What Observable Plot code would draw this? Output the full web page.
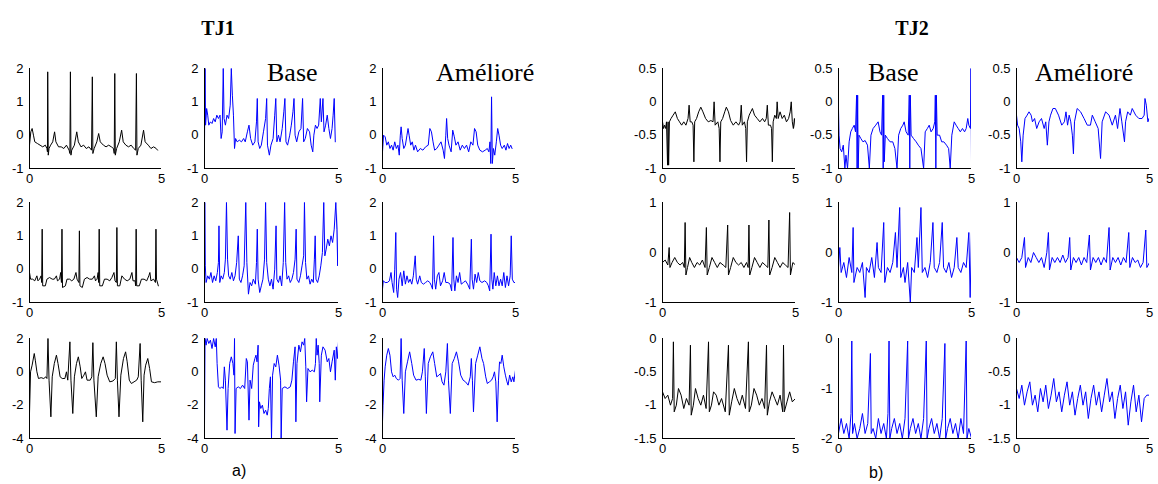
<!DOCTYPE html>
<html><head><meta charset="utf-8">
<script src="https://cdn.jsdelivr.net/npm/d3@7"></script>
<script src="https://cdn.jsdelivr.net/npm/@observablehq/plot@0.6"></script>
<style>
body{margin:0;background:#fff;}
#root{position:relative;width:1158px;height:484px;overflow:hidden;background:#fff;}
#root svg.panel{position:absolute;}
#labels{position:absolute;left:0;top:0;pointer-events:none;}
</style></head><body><div id="root"></div>
<script>
// ---- TJ1 signals (time s, amplitude) ----
const tj1_r1_ref = [[0,-0.3],[0.05,0.1],[0.1,0.2],[0.15,0.0],[0.2,-0.2],[0.3,-0.25],[0.4,-0.3],[0.5,-0.35],[0.6,-0.3],[0.66,-0.4],[0.68,-0.5],[0.69,1.9],[0.71,-0.6],[0.74,-0.4],[0.8,-0.3],[0.88,-0.2],[0.95,0.1],[1.0,-0.2],[1.1,-0.35],[1.2,-0.35],[1.3,-0.4],[1.4,-0.3],[1.5,-0.45],[1.53,-0.55],[1.55,1.9],[1.57,-0.6],[1.6,-0.45],[1.7,-0.3],[1.79,0.1],[1.85,-0.2],[1.95,-0.35],[2.05,-0.3],[2.15,-0.4],[2.25,-0.35],[2.35,-0.45],[2.38,1.75],[2.4,-0.55],[2.45,-0.4],[2.55,-0.2],[2.62,0.05],[2.68,-0.2],[2.8,-0.3],[2.9,-0.35],[3.0,-0.3],[3.1,-0.35],[3.18,-0.4],[3.21,-0.55],[3.23,1.85],[3.25,-0.6],[3.3,-0.4],[3.4,-0.2],[3.49,0.15],[3.55,-0.2],[3.65,-0.3],[3.75,-0.35],[3.85,-0.3],[3.95,-0.4],[4.02,-0.45],[4.05,1.85],[4.07,-0.6],[4.12,-0.4],[4.22,-0.3],[4.32,0.15],[4.38,-0.2],[4.5,-0.3],[4.6,-0.4],[4.7,-0.35],[4.8,-0.4],[4.85,-0.45]];
const tj1_r1_base = [[0,-0.3],[0.02,2],[0.04,0.3],[0.08,0.8],[0.12,0.6],[0.16,0.3],[0.22,0.4],[0.28,0.35],[0.34,0.5],[0.4,0.4],[0.46,0.6],[0.52,0.5],[0.58,0.6],[0.62,-0.1],[0.66,0.1],[0.7,2],[0.73,0.5],[0.78,0.3],[0.84,0.6],[0.9,0.5],[0.96,0.9],[1.0,2],[1.04,1.2],[1.08,0.6],[1.12,-0.4],[1.16,-0.1],[1.22,-0.2],[1.3,-0.15],[1.38,-0.2],[1.46,-0.1],[1.52,-0.2],[1.6,0.1],[1.66,0.3],[1.72,-0.1],[1.8,-0.3],[1.88,-0.2],[1.94,0.4],[1.97,1.1],[2.0,-0.2],[2.06,-0.4],[2.12,-0.3],[2.2,0.1],[2.28,0.5],[2.32,1.1],[2.35,-0.3],[2.42,-0.6],[2.48,-0.3],[2.56,-0.1],[2.62,0.6],[2.66,1.1],[2.7,-0.2],[2.76,0.0],[2.82,-0.2],[2.9,0.2],[2.96,0.7],[3.0,1.1],[3.04,-0.2],[3.1,-0.3],[3.18,0.0],[3.24,0.3],[3.3,0.7],[3.34,1.1],[3.38,0.0],[3.44,-0.2],[3.52,0.1],[3.6,0.2],[3.66,1.1],[3.7,-0.2],[3.76,-0.1],[3.84,0.2],[3.92,0.1],[3.98,-0.3],[4.04,-0.5],[4.08,0.0],[4.14,0.3],[4.2,0.2],[4.26,0.3],[4.32,1.1],[4.36,0.4],[4.42,1.1],[4.46,0.1],[4.52,0.3],[4.58,0.6],[4.64,0.2],[4.7,-0.1],[4.76,0.2],[4.8,0.6],[4.84,1.1],[4.88,-0.2]];
const tj1_r1_amel = [[0,-0.5],[0.04,0.0],[0.1,-0.05],[0.16,-0.3],[0.22,-0.2],[0.28,-0.4],[0.34,-0.3],[0.4,-0.45],[0.46,-0.2],[0.52,-0.4],[0.58,-0.3],[0.63,-0.6],[0.67,0.0],[0.7,0.25],[0.74,-0.1],[0.8,-0.4],[0.86,-0.3],[0.92,0.0],[0.96,0.2],[1.0,0.0],[1.06,-0.3],[1.12,-0.2],[1.18,-0.45],[1.24,-0.3],[1.32,-0.5],[1.42,-0.4],[1.52,-0.45],[1.62,-0.35],[1.72,-0.3],[1.78,0.2],[1.84,0.1],[1.9,-0.2],[1.96,-0.45],[2.04,-0.4],[2.12,-0.3],[2.2,-0.2],[2.28,-0.45],[2.33,-0.7],[2.38,0.0],[2.41,0.5],[2.45,-0.1],[2.5,-0.3],[2.58,-0.5],[2.64,0.15],[2.7,-0.05],[2.76,-0.3],[2.84,-0.2],[2.92,-0.45],[3.0,-0.3],[3.08,-0.4],[3.16,-0.3],[3.24,-0.5],[3.32,-0.2],[3.4,-0.3],[3.46,0.2],[3.52,0.1],[3.58,-0.3],[3.66,-0.45],[3.76,-0.5],[3.86,-0.45],[3.94,-0.4],[4.0,-0.5],[4.04,-0.2],[4.07,-0.85],[4.1,1.15],[4.13,-0.85],[4.17,-0.4],[4.22,-0.6],[4.28,-0.2],[4.33,0.2],[4.38,0.0],[4.44,-0.3],[4.5,-0.4],[4.58,-0.3],[4.64,-0.45],[4.7,-0.25],[4.76,-0.4],[4.82,-0.3],[4.87,-0.4]];
const tj1_r2_ref = [[0,-0.1],[0.04,-0.3],[0.12,-0.3],[0.2,-0.35],[0.28,-0.2],[0.32,-0.35],[0.38,-0.3],[0.44,-0.2],[0.46,-0.4],[0.48,1.2],[0.5,-0.5],[0.6,-0.5],[0.66,-0.3],[0.76,-0.25],[0.86,-0.3],[0.94,-0.3],[1.02,-0.2],[1.06,-0.35],[1.14,-0.3],[1.18,-0.1],[1.21,-0.4],[1.23,1.2],[1.25,-0.55],[1.36,-0.5],[1.42,-0.3],[1.52,-0.3],[1.6,-0.35],[1.68,-0.3],[1.76,-0.1],[1.8,-0.3],[1.87,-0.4],[1.89,1.15],[1.91,-0.5],[2.0,-0.55],[2.08,-0.3],[2.18,-0.25],[2.28,-0.3],[2.38,-0.3],[2.46,-0.2],[2.5,-0.35],[2.56,-0.3],[2.6,-0.1],[2.62,-0.4],[2.64,1.2],[2.66,-0.5],[2.76,-0.5],[2.84,-0.3],[2.94,-0.3],[3.04,-0.35],[3.12,-0.25],[3.2,-0.1],[3.24,-0.35],[3.29,-0.4],[3.31,1.25],[3.33,-0.5],[3.42,-0.5],[3.5,-0.2],[3.6,-0.3],[3.7,-0.35],[3.8,-0.3],[3.88,-0.1],[3.92,-0.35],[4.0,-0.35],[4.02,-0.5],[4.04,1.2],[4.06,-0.5],[4.16,-0.5],[4.24,-0.3],[4.34,-0.3],[4.44,-0.35],[4.52,-0.2],[4.56,-0.1],[4.6,-0.35],[4.7,-0.3],[4.77,-0.4],[4.79,1.2],[4.81,-0.3],[4.88,-0.5]];
const tj1_r2_base = [[0,-0.6],[0.01,2],[0.03,0.1],[0.06,-0.4],[0.12,-0.2],[0.18,-0.3],[0.24,-0.1],[0.3,-0.4],[0.36,-0.2],[0.42,-0.35],[0.48,-0.1],[0.52,0.2],[0.54,1.3],[0.57,-0.4],[0.62,-0.2],[0.68,-0.3],[0.74,-0.1],[0.78,0.3],[0.82,2],[0.86,0.3],[0.9,-0.2],[0.96,-0.3],[1.02,-0.1],[1.08,-0.35],[1.14,-0.2],[1.2,0.2],[1.26,1.0],[1.3,-0.3],[1.36,-0.4],[1.42,-0.2],[1.48,0.1],[1.54,2],[1.58,0.2],[1.64,-0.75],[1.7,-0.4],[1.76,-0.5],[1.82,-0.3],[1.9,-0.45],[1.94,0.2],[1.97,1.2],[2.0,-0.3],[2.06,-0.7],[2.12,-0.5],[2.18,-0.3],[2.24,0.3],[2.28,2],[2.32,0.2],[2.38,-0.3],[2.44,-0.5],[2.5,-0.3],[2.56,-0.6],[2.62,0.0],[2.67,1.3],[2.7,-0.3],[2.76,-0.4],[2.82,-0.2],[2.88,-0.5],[2.94,0.2],[2.99,2],[3.03,0.2],[3.08,-0.3],[3.14,-0.2],[3.2,-0.4],[3.26,-0.3],[3.32,-0.1],[3.38,0.3],[3.42,1.2],[3.45,-0.3],[3.52,-0.4],[3.58,-0.2],[3.64,0.1],[3.7,0.4],[3.73,2],[3.77,0.2],[3.82,-0.3],[3.88,-0.2],[3.94,-0.45],[4.0,-0.3],[4.06,-0.4],[4.1,0.3],[4.13,1.0],[4.16,-0.3],[4.22,-0.4],[4.28,-0.2],[4.34,0.1],[4.4,0.5],[4.45,2],[4.49,0.4],[4.54,0.6],[4.6,0.9],[4.66,0.7],[4.72,1.0],[4.78,0.8],[4.84,1.2],[4.9,2],[4.94,1.2],[4.97,0.1],[5.0,1.7]];
const tj1_r2_amel = [[0,-0.6],[0.03,-0.35],[0.1,-0.4],[0.18,-0.4],[0.26,-0.35],[0.32,-0.1],[0.36,-0.4],[0.42,-0.7],[0.46,0.0],[0.5,1.1],[0.53,-0.6],[0.57,-0.85],[0.62,-0.3],[0.68,-0.1],[0.74,-0.5],[0.8,-0.05],[0.86,-0.45],[0.92,-0.2],[0.98,-0.4],[1.04,-0.3],[1.1,-0.45],[1.16,-0.2],[1.23,0.4],[1.27,-0.3],[1.32,-0.45],[1.4,-0.2],[1.46,-0.4],[1.54,-0.45],[1.62,-0.4],[1.7,-0.35],[1.78,-0.4],[1.84,-0.5],[1.88,-0.6],[1.92,1.0],[1.95,-0.3],[2.0,-0.6],[2.06,-0.2],[2.12,-0.1],[2.18,-0.5],[2.26,-0.35],[2.32,-0.1],[2.38,-0.4],[2.46,-0.4],[2.54,-0.45],[2.6,-0.65],[2.65,0.95],[2.68,-0.3],[2.72,-0.65],[2.78,-0.2],[2.84,-0.4],[2.9,-0.1],[2.96,-0.45],[3.04,-0.4],[3.12,-0.35],[3.2,-0.45],[3.28,-0.6],[3.34,0.9],[3.37,-0.3],[3.42,-0.6],[3.48,-0.15],[3.54,-0.4],[3.6,-0.1],[3.66,-0.35],[3.74,-0.4],[3.84,-0.35],[3.92,-0.4],[3.98,-0.5],[4.03,-0.65],[4.08,1.05],[4.11,-0.3],[4.15,-0.6],[4.2,-0.1],[4.26,-0.5],[4.32,-0.2],[4.38,-0.5],[4.44,-0.3],[4.5,-0.5],[4.56,-0.1],[4.62,-0.55],[4.68,-0.2],[4.74,-0.5],[4.8,-0.2],[4.84,1.0],[4.88,-0.3],[4.94,-0.4],[5.0,-0.4]];
const tj1_r3_ref = [[0,-2.5],[0.04,0.0],[0.1,0.4],[0.18,1.1],[0.22,0.7],[0.28,0.0],[0.34,-0.4],[0.44,-0.35],[0.54,-0.4],[0.62,-0.3],[0.66,-0.4],[0.7,2.0],[0.74,-0.5],[0.81,-2.7],[0.86,-0.3],[0.94,0.5],[1.02,1.0],[1.08,0.5],[1.16,-0.3],[1.24,-0.4],[1.34,-0.4],[1.4,0.0],[1.45,-0.5],[1.53,1.8],[1.57,-0.5],[1.64,-2.5],[1.7,-0.3],[1.78,0.5],[1.85,0.9],[1.92,0.3],[1.98,-0.4],[2.06,-0.2],[2.12,0.0],[2.18,-0.5],[2.3,-0.5],[2.36,-0.3],[2.4,1.75],[2.44,-0.5],[2.53,-2.7],[2.6,-0.3],[2.7,0.5],[2.79,0.9],[2.86,0.5],[2.94,-0.2],[3.04,-0.6],[3.16,-0.55],[3.25,-0.4],[3.29,1.8],[3.33,-0.5],[3.39,-2.7],[3.46,-0.2],[3.56,0.8],[3.64,1.2],[3.7,0.6],[3.78,-0.5],[3.86,-0.7],[3.96,-0.6],[4.06,-0.5],[4.12,-0.3],[4.19,1.7],[4.23,-0.5],[4.29,-3.0],[4.34,-0.2],[4.4,0.4],[4.48,0.8],[4.55,0.2],[4.62,-0.6],[4.74,-0.65],[4.86,-0.6],[5.0,-0.6]];
const tj1_r3_base = [[0,-3.3],[0.02,2],[0.06,1.6],[0.1,2],[0.16,1.7],[0.22,1.9],[0.28,1.4],[0.34,2],[0.4,1.5],[0.44,2],[0.47,0.5],[0.52,-0.9],[0.58,-1.0],[0.64,-0.9],[0.7,-1.0],[0.74,0.3],[0.78,-0.5],[0.84,-3.5],[0.88,-1.0],[0.94,0.5],[1.0,0.9],[1.06,0.5],[1.1,-0.2],[1.12,2],[1.14,-3.7],[1.18,-1.0],[1.26,-0.9],[1.34,-1.0],[1.42,-0.8],[1.5,-1.0],[1.56,0.8],[1.6,0.6],[1.66,-2.9],[1.7,-0.5],[1.76,-1.0],[1.82,0.4],[1.88,0.8],[1.92,1.0],[1.96,0.6],[2.0,1.6],[2.02,-3.3],[2.05,-1.8],[2.1,-2.2],[2.16,-2.0],[2.22,-2.5],[2.28,-2.3],[2.34,-2.6],[2.38,-2.2],[2.42,-1.0],[2.46,-0.3],[2.5,-4],[2.54,-0.2],[2.6,0.5],[2.66,0.3],[2.72,1.0],[2.78,0.4],[2.84,-0.5],[2.86,-4],[2.9,-1.0],[3.0,-0.9],[3.1,-1.0],[3.2,-0.9],[3.26,-0.5],[3.32,0.6],[3.38,1.5],[3.41,-3.0],[3.45,0.5],[3.52,1.6],[3.58,1.2],[3.64,1.8],[3.7,1.6],[3.74,2],[3.78,0.3],[3.81,-1.8],[3.86,0.2],[3.94,0.0],[4.02,0.1],[4.1,0.0],[4.14,0.5],[4.17,2],[4.2,1.0],[4.24,1.6],[4.28,0.5],[4.3,-1.8],[4.36,1.0],[4.42,1.5],[4.5,1.3],[4.58,0.6],[4.64,0.8],[4.7,0.0],[4.76,0.6],[4.84,1.3],[4.88,-0.5],[4.92,1.5],[4.96,0.8],[5.0,1.8]];
const tj1_r3_amel = [[0,-3.0],[0.02,-2.0],[0.06,-0.5],[0.1,0.3],[0.16,1.0],[0.22,1.4],[0.28,1.0],[0.34,0.0],[0.4,-0.3],[0.46,-0.2],[0.52,-0.4],[0.6,-0.5],[0.66,-0.4],[0.7,2.0],[0.74,-0.5],[0.8,-2.5],[0.86,0.0],[0.94,0.6],[1.02,1.2],[1.1,0.5],[1.17,-0.2],[1.26,-0.5],[1.36,-0.45],[1.44,-0.5],[1.5,0.0],[1.57,1.4],[1.61,-0.3],[1.65,-2.5],[1.72,0.5],[1.8,0.9],[1.89,1.2],[1.96,0.5],[2.04,-0.3],[2.12,-0.2],[2.18,-0.1],[2.24,-0.6],[2.31,-0.8],[2.38,0.0],[2.44,1.7],[2.48,-0.5],[2.55,-2.5],[2.62,0.5],[2.7,0.8],[2.78,1.2],[2.86,0.6],[2.94,-0.2],[3.03,-0.5],[3.12,-0.6],[3.22,-0.8],[3.3,-0.3],[3.34,0.8],[3.38,-0.5],[3.42,-2.4],[3.5,0.5],[3.58,1.0],[3.66,1.5],[3.74,0.8],[3.8,0.5],[3.88,-0.3],[3.94,-0.7],[4.02,-0.6],[4.1,-0.5],[4.16,-0.3],[4.21,0.0],[4.26,-0.6],[4.31,-3.0],[4.36,-0.5],[4.4,0.6],[4.45,0.5],[4.5,1.0],[4.56,0.3],[4.62,-0.2],[4.68,-0.6],[4.72,-0.8],[4.78,-0.2],[4.84,-0.6],[4.9,-0.3],[4.94,-0.6],[5.0,0.1]];

// ---- TJ2 signals ----
const tj2_r1_ref = [[0,-0.3],[0.04,-0.4],[0.08,-0.35],[0.12,-0.4],[0.15,-0.3],[0.19,-0.95],[0.21,-0.3],[0.23,-0.95],[0.26,-0.3],[0.32,-0.25],[0.4,-0.2],[0.48,-0.15],[0.56,-0.25],[0.64,-0.3],[0.72,-0.35],[0.8,-0.3],[0.88,-0.35],[0.96,-0.25],[1.0,-0.05],[1.04,-0.3],[1.1,-0.3],[1.15,-0.35],[1.18,-0.9],[1.21,-0.3],[1.28,-0.25],[1.36,-0.15],[1.44,-0.08],[1.52,-0.15],[1.62,-0.25],[1.72,-0.3],[1.82,-0.28],[1.9,-0.3],[1.94,0.0],[1.98,-0.35],[2.08,-0.3],[2.13,-0.4],[2.16,-0.9],[2.19,-0.3],[2.26,-0.25],[2.34,-0.15],[2.4,-0.08],[2.48,-0.15],[2.56,-0.28],[2.66,-0.35],[2.76,-0.3],[2.86,-0.35],[2.92,-0.3],[2.96,-0.05],[3.0,-0.35],[3.08,-0.3],[3.13,-0.4],[3.16,-0.9],[3.19,-0.3],[3.26,-0.2],[3.32,-0.15],[3.38,-0.1],[3.46,-0.2],[3.56,-0.25],[3.66,-0.3],[3.76,-0.25],[3.84,-0.3],[3.9,-0.25],[3.94,-0.05],[3.98,-0.35],[4.06,-0.35],[4.1,-0.4],[4.13,-0.9],[4.16,-0.3],[4.22,-0.2],[4.28,-0.25],[4.31,0.0],[4.35,-0.25],[4.42,-0.15],[4.5,-0.25],[4.58,-0.2],[4.66,-0.3],[4.74,-0.25],[4.8,-0.15],[4.84,0.0],[4.88,-0.3],[4.92,-0.4],[4.96,-0.25],[5.0,-0.4]];
const tj2_r1_base = [[0,-0.1],[0.02,-0.5],[0.06,-0.7],[0.12,-0.75],[0.18,-0.65],[0.24,-1],[0.28,-0.8],[0.34,-1],[0.4,-0.6],[0.46,-0.45],[0.52,-0.4],[0.59,-0.35],[0.64,-0.45],[0.68,0.1],[0.7,-1],[0.72,0.1],[0.74,-1],[0.77,-0.5],[0.84,-0.55],[0.92,-0.6],[1.0,-0.58],[1.09,-0.65],[1.16,-1],[1.22,-0.5],[1.3,-0.4],[1.4,-0.35],[1.49,-0.3],[1.56,-0.45],[1.62,-0.5],[1.66,0.1],[1.68,-1],[1.7,0.1],[1.72,-0.9],[1.76,-0.5],[1.84,-0.55],[1.94,-0.6],[2.04,-0.6],[2.12,-0.7],[2.2,-1],[2.26,-0.5],[2.34,-0.4],[2.42,-0.35],[2.47,-0.3],[2.54,-0.45],[2.62,-0.5],[2.66,0.1],[2.68,-1],[2.7,0.1],[2.73,-0.5],[2.82,-0.55],[2.92,-0.6],[3.0,-0.65],[3.1,-0.7],[3.2,-1],[3.26,-0.45],[3.34,-0.4],[3.41,-0.35],[3.48,-0.45],[3.56,-0.4],[3.62,-0.3],[3.64,0.1],[3.66,-1],[3.68,0.1],[3.71,-0.5],[3.8,-0.5],[3.88,-0.6],[3.96,-0.6],[4.06,-0.65],[4.14,-0.7],[4.2,-1],[4.26,-0.5],[4.35,-0.3],[4.42,-0.35],[4.5,-0.4],[4.58,-0.45],[4.66,-0.4],[4.74,-0.45],[4.8,-0.4],[4.86,-0.25],[4.9,-0.35],[4.96,-0.4],[4.98,0.5],[5.0,-0.9]];
const tj2_r1_amel = [[0,-0.2],[0.04,-0.35],[0.1,-0.4],[0.16,-0.6],[0.2,-0.9],[0.25,-0.5],[0.32,-0.25],[0.4,-0.2],[0.47,-0.15],[0.55,-0.2],[0.6,-0.3],[0.68,-0.25],[0.76,-0.4],[0.85,-0.3],[0.94,-0.25],[1.04,-0.4],[1.1,-0.3],[1.16,-0.65],[1.22,-0.3],[1.28,-0.2],[1.37,-0.1],[1.46,-0.1],[1.58,-0.2],[1.7,-0.35],[1.8,-0.3],[1.86,-0.15],[1.92,-0.35],[1.98,-0.2],[2.04,-0.3],[2.1,-0.5],[2.14,-0.78],[2.18,-0.3],[2.28,-0.1],[2.41,-0.15],[2.54,-0.25],[2.66,-0.35],[2.78,-0.35],[2.85,-0.2],[2.96,-0.3],[3.07,-0.4],[3.16,-0.85],[3.22,-0.3],[3.35,-0.15],[3.48,-0.2],[3.6,-0.35],[3.72,-0.2],[3.8,-0.4],[3.89,-0.1],[3.96,-0.3],[4.06,-0.6],[4.1,-0.3],[4.18,-0.15],[4.28,-0.2],[4.35,-0.1],[4.48,-0.2],[4.6,-0.25],[4.72,-0.25],[4.8,-0.2],[4.83,0.05],[4.88,-0.05],[4.94,-0.3],[4.98,-0.25],[5.0,-0.3]];
const tj2_r2_ref = [[0,-0.2],[0.1,-0.15],[0.2,-0.25],[0.25,0.1],[0.28,-0.3],[0.36,-0.2],[0.46,-0.1],[0.56,-0.2],[0.66,-0.25],[0.76,-0.2],[0.82,-0.3],[0.85,0.6],[0.88,-0.45],[0.94,-0.3],[1.02,-0.1],[1.1,-0.2],[1.2,-0.3],[1.3,-0.2],[1.4,-0.25],[1.5,-0.15],[1.6,-0.3],[1.65,0.5],[1.68,-0.45],[1.76,-0.3],[1.86,-0.1],[1.96,-0.2],[2.06,-0.3],[2.16,-0.2],[2.28,-0.25],[2.38,-0.3],[2.45,0.55],[2.48,-0.45],[2.56,-0.3],[2.66,-0.1],[2.76,-0.2],[2.86,-0.25],[2.96,-0.2],[3.06,-0.3],[3.16,-0.2],[3.22,-0.3],[3.25,0.55],[3.28,-0.45],[3.36,-0.3],[3.46,-0.1],[3.56,-0.2],[3.66,-0.3],[3.76,-0.2],[3.86,-0.25],[3.96,-0.3],[4.0,0.65],[4.03,-0.45],[4.12,-0.3],[4.22,-0.1],[4.32,-0.2],[4.42,-0.3],[4.52,-0.2],[4.62,-0.25],[4.72,-0.3],[4.78,0.8],[4.81,-0.45],[4.9,-0.2],[5.0,-0.25]];
const tj2_r2_base = [[0,-0.3],[0.05,0.1],[0.1,-0.4],[0.2,-0.2],[0.3,-0.5],[0.4,-0.1],[0.5,-0.4],[0.55,0.5],[0.58,-0.6],[0.7,-0.3],[0.8,-0.4],[0.9,-0.2],[1.0,-0.9],[1.05,-0.3],[1.15,-0.4],[1.25,-0.1],[1.35,-0.5],[1.45,0.2],[1.5,-0.3],[1.6,-0.4],[1.7,0.6],[1.74,-0.6],[1.84,-0.3],[1.94,-0.4],[2.04,-0.2],[2.14,0.4],[2.2,-0.3],[2.3,0.9],[2.34,-0.5],[2.44,-0.3],[2.5,-0.6],[2.6,-0.2],[2.7,-1],[2.75,-0.3],[2.85,-0.4],[2.95,0.3],[3.0,-0.3],[3.1,0.9],[3.15,-0.4],[3.25,-0.3],[3.35,-0.5],[3.45,-0.2],[3.55,0.6],[3.6,-0.3],[3.7,-0.4],[3.8,-0.2],[3.9,0.6],[3.95,-0.3],[4.05,-0.4],[4.15,-0.2],[4.25,-0.5],[4.35,-0.3],[4.45,0.3],[4.5,-0.3],[4.6,-0.4],[4.7,-0.2],[4.8,-0.3],[4.9,0.4],[4.95,-0.9],[5.0,0.4]];
const tj2_r2_amel = [[0,-0.1],[0.1,-0.2],[0.2,-0.1],[0.3,0.3],[0.34,-0.3],[0.44,-0.1],[0.54,-0.2],[0.64,0.0],[0.74,-0.1],[0.84,-0.2],[0.94,-0.1],[1.04,-0.3],[1.14,0.0],[1.2,0.4],[1.24,-0.35],[1.34,-0.1],[1.44,-0.2],[1.54,-0.1],[1.64,-0.2],[1.74,-0.05],[1.84,-0.2],[1.94,-0.1],[2.0,0.3],[2.04,-0.35],[2.14,-0.1],[2.24,-0.2],[2.34,-0.1],[2.44,-0.25],[2.54,-0.1],[2.64,-0.2],[2.74,0.35],[2.78,-0.35],[2.88,-0.1],[2.98,-0.2],[3.08,-0.1],[3.18,-0.25],[3.28,-0.1],[3.38,-0.2],[3.48,0.5],[3.52,-0.35],[3.62,-0.1],[3.72,-0.2],[3.82,-0.1],[3.92,-0.25],[4.02,-0.1],[4.12,-0.2],[4.22,0.4],[4.26,-0.3],[4.36,-0.1],[4.46,-0.2],[4.56,-0.15],[4.66,-0.3],[4.76,-0.2],[4.86,0.45],[4.9,-0.3],[5.0,-0.2]];
const tj2_r3_ref = [[0,-0.8],[0.1,-0.9],[0.2,-0.85],[0.3,-1.0],[0.38,-0.9],[0.41,-0.05],[0.44,-1.1],[0.52,-1.0],[0.6,-0.75],[0.7,-0.85],[0.8,-1.05],[0.9,-0.9],[1.0,-1.0],[1.05,-0.1],[1.08,-1.15],[1.16,-1.0],[1.24,-0.75],[1.34,-0.9],[1.44,-1.0],[1.54,-0.85],[1.64,-1.05],[1.73,-0.05],[1.76,-1.1],[1.84,-1.0],[1.92,-0.8],[2.02,-0.85],[2.12,-1.0],[2.22,-0.9],[2.36,-1.1],[2.48,-0.1],[2.51,-1.15],[2.6,-0.95],[2.7,-0.75],[2.8,-0.9],[2.9,-1.0],[3.0,-0.85],[3.12,-1.05],[3.23,-0.05],[3.26,-1.1],[3.34,-1.0],[3.44,-0.75],[3.54,-0.85],[3.64,-1.0],[3.74,-0.9],[3.84,-1.05],[3.91,-0.1],[3.94,-1.15],[4.02,-0.95],[4.12,-0.8],[4.22,-0.9],[4.32,-1.0],[4.42,-0.85],[4.52,-1.1],[4.55,-0.1],[4.58,-1.1],[4.68,-0.95],[4.78,-0.8],[4.88,-0.95],[5.0,-0.9]];
const tj2_r3_base = [[0,-1.9],[0.1,-1.6],[0.2,-1.9],[0.3,-1.7],[0.4,-2],[0.47,-1.5],[0.5,-0.05],[0.53,-1.9],[0.6,-1.7],[0.7,-2],[0.8,-1.8],[0.9,-1.5],[1.0,-1.9],[1.1,-1.7],[1.2,-0.3],[1.23,-1.9],[1.3,-1.8],[1.4,-2],[1.5,-1.6],[1.6,-1.9],[1.7,-1.7],[1.8,-2],[1.86,-1.5],[1.9,-0.05],[1.93,-2],[2.0,-1.8],[2.1,-1.6],[2.2,-1.9],[2.3,-1.7],[2.4,-2],[2.5,-1.6],[2.6,-0.05],[2.63,-2],[2.7,-1.8],[2.8,-1.6],[2.9,-1.9],[3.0,-1.7],[3.1,-2],[3.2,-1.6],[3.3,-0.05],[3.33,-2],[3.4,-1.8],[3.5,-1.6],[3.6,-1.9],[3.7,-1.7],[3.8,-2],[3.9,-1.6],[4.0,-0.1],[4.03,-2],[4.1,-1.8],[4.2,-1.6],[4.3,-1.9],[4.4,-1.7],[4.5,-2],[4.6,-1.6],[4.7,-1.9],[4.8,-0.05],[4.83,-2],[4.9,-1.8],[5.0,-2]];
const tj2_r3_amel = [[0,-0.75],[0.1,-0.9],[0.2,-0.7],[0.3,-1.0],[0.4,-0.8],[0.5,-0.65],[0.6,-1.0],[0.7,-0.85],[0.8,-1.1],[0.9,-0.75],[1.0,-0.95],[1.1,-0.7],[1.2,-1.05],[1.3,-0.85],[1.4,-0.6],[1.5,-0.95],[1.6,-0.8],[1.7,-1.1],[1.8,-0.85],[1.9,-0.65],[2.0,-1.0],[2.1,-0.8],[2.2,-1.15],[2.3,-0.9],[2.4,-0.7],[2.5,-1.0],[2.6,-0.8],[2.7,-1.2],[2.8,-0.9],[2.9,-0.7],[3.0,-1.0],[3.1,-0.8],[3.2,-1.1],[3.3,-0.85],[3.4,-0.6],[3.5,-0.95],[3.6,-0.8],[3.7,-1.2],[3.8,-0.9],[3.9,-0.7],[4.0,-1.05],[4.1,-0.8],[4.2,-1.3],[4.3,-0.95],[4.4,-0.7],[4.5,-1.1],[4.6,-0.85],[4.7,-1.25],[4.8,-0.9],[4.9,-0.85],[5.0,-0.85]];

// ---- axes ----
const xTickValues = [0, 5];
const tj1_yDomains = [[-1, 2], [-1, 2], [-4, 2]];
const tj1_yTicks = [[2, 1, 0, -1], [2, 1, 0, -1], [2, 0, -2, -4]];
const tj2_yDomains = [[-1, 0.5], [-1, 1], [-1.5, 0]];
const tj2_yTicks = [[0.5, 0, -0.5, -1], [1, 0, -1], [0, -0.5, -1, -1.5]];
const tj2_r3_base_yDomain = [-2, 0];
const tj2_r3_base_yTicks = [0, -1, -2];

// ---- titles ----
const groupTitles = ["TJ1", "TJ2"];
const columnLabels = ["Base", "Amélioré"];
const subLabels = ["a)", "b)"];

// ---- layout (pixels) ----
const colX = [[[29,161],[204,338],[382,515]], [[662,795],[838,971],[1016,1149]]];
const rowY = [[68,168],[202,302],[338,438]];
const colors = ["#000000", "#0000ff", "#0000ff"];

const root = document.getElementById("root");
const ML = 44, MR = 8, MT = 8, MB = 24;
const FONT = '"Liberation Sans", Arial, Helvetica, sans-serif';

function panel(data, yDomain, yTicks, color, xr, yr) {
  const chart = Plot.plot({
    width: xr[1] - xr[0] + ML + MR,
    height: yr[1] - yr[0] + MT + MB,
    marginLeft: ML, marginRight: MR, marginTop: MT, marginBottom: MB,
    style: {fontFamily: FONT, fontSize: "13px", color: "#000", background: "transparent", overflow: "visible"},
    x: {domain: [0, 5], ticks: xTickValues, tickSize: 0, tickPadding: 5, label: null, tickFormat: d => String(d)},
    y: {domain: yDomain, ticks: yTicks, tickSize: 0, tickPadding: 6, label: null, tickFormat: d => String(d)},
    marks: [
      Plot.line(data, {x: d => d[0], y: d => d[1], stroke: color, strokeWidth: 1, clip: true}),
      Plot.ruleX([0], {stroke: "#000", strokeWidth: 1}),
      Plot.ruleY([yDomain[0]], {stroke: "#000", strokeWidth: 1})
    ]
  });
  chart.classList.add("panel");
  chart.style.left = (xr[0] - ML) + "px";
  chart.style.top = (yr[0] - MT) + "px";
  root.appendChild(chart);
}

const tj1 = [[tj1_r1_ref, tj1_r1_base, tj1_r1_amel], [tj1_r2_ref, tj1_r2_base, tj1_r2_amel], [tj1_r3_ref, tj1_r3_base, tj1_r3_amel]];
const tj2 = [[tj2_r1_ref, tj2_r1_base, tj2_r1_amel], [tj2_r2_ref, tj2_r2_base, tj2_r2_amel], [tj2_r3_ref, tj2_r3_base, tj2_r3_amel]];

for (let r = 0; r < 3; r++) for (let c = 0; c < 3; c++) {
  panel(tj1[r][c], tj1_yDomains[r], tj1_yTicks[r], colors[c], colX[0][c], rowY[r]);
  const isB = (r === 2 && c === 1);
  panel(tj2[r][c], isB ? tj2_r3_base_yDomain : tj2_yDomains[r], isB ? tj2_r3_base_yTicks : tj2_yTicks[r], colors[c], colX[1][c], rowY[r]);
}

// text overlay
const svgNS = "http://www.w3.org/2000/svg";
const ov = document.createElementNS(svgNS, "svg");
ov.setAttribute("id", "labels");
ov.setAttribute("width", 1158); ov.setAttribute("height", 484);
function txt(s, x, y, opts) {
  const t = document.createElementNS(svgNS, "text");
  t.textContent = s;
  t.setAttribute("x", x); t.setAttribute("y", y);
  t.setAttribute("font-family", opts.family);
  t.setAttribute("font-size", opts.size);
  if (opts.weight) t.setAttribute("font-weight", opts.weight);
  t.setAttribute("text-anchor", opts.anchor || "start");
  t.setAttribute("fill", "#000");
  ov.appendChild(t);
}
const SERIF = '"Liberation Serif", "Times New Roman", serif';
txt(groupTitles[0], 218, 35, {family: SERIF, size: 20, weight: "bold", anchor: "middle"});
txt(groupTitles[1], 912, 35, {family: SERIF, size: 20, weight: "bold", anchor: "middle"});
txt(columnLabels[0], 267, 81, {family: SERIF, size: 26});
txt(columnLabels[1], 436, 81, {family: SERIF, size: 26});
txt(columnLabels[0], 868, 81, {family: SERIF, size: 26});
txt(columnLabels[1], 1035, 81, {family: SERIF, size: 26});
txt(subLabels[0], 232, 476, {family: FONT, size: 16});
txt(subLabels[1], 869, 478, {family: FONT, size: 16});
root.appendChild(ov);
</script></body></html>
